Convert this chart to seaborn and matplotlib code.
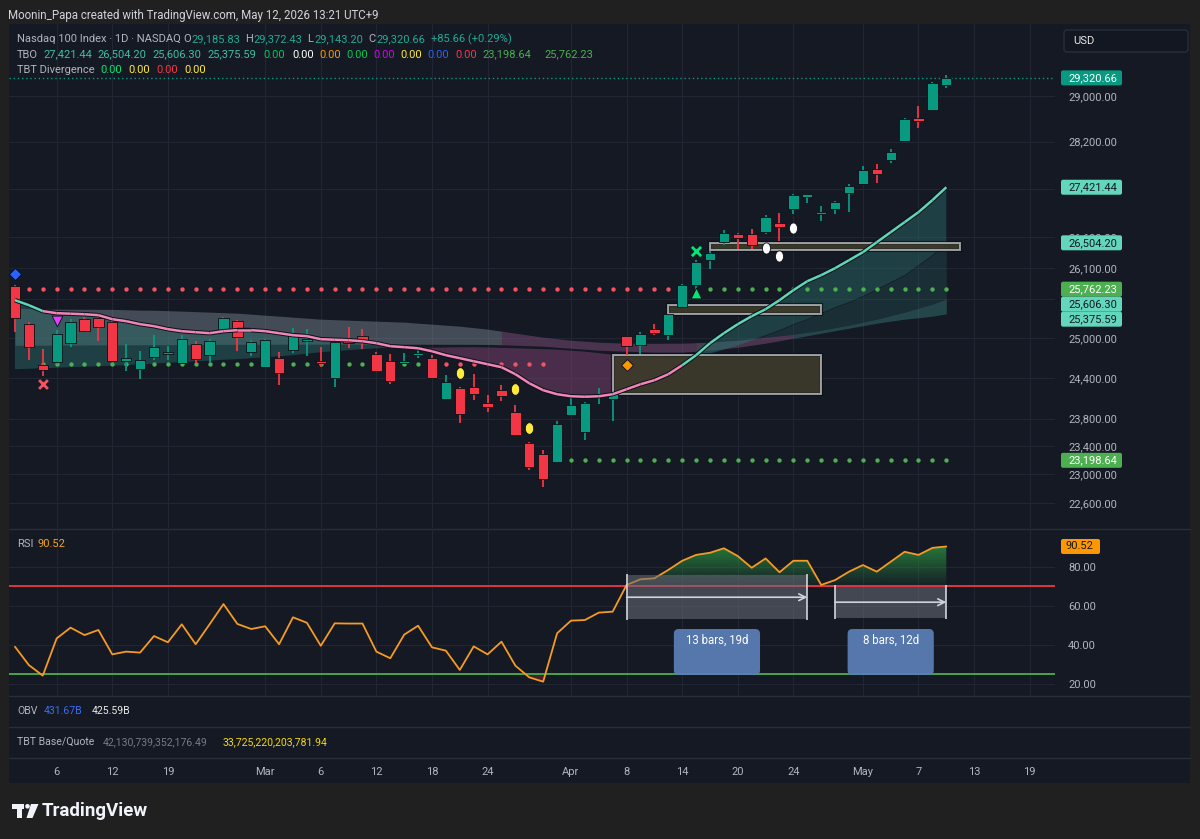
import numpy as np
import pandas as pd
import matplotlib
matplotlib.use("Agg")
import matplotlib.pyplot as plt
import matplotlib.ticker as mticker
import matplotlib.patheffects as pe
from matplotlib.collections import LineCollection
from matplotlib.colors import to_rgb
from matplotlib.patches import Rectangle, FancyBboxPatch, Polygon, Circle
from matplotlib.path import Path
import seaborn as sns

# ---------------- data ----------------
# trading sessions on the x axis (last 7 are empty future days)
holidays = ["2026-02-16", "2026-04-03"]
dates = pd.bdate_range("2026-02-03", "2026-05-20", freq="C", holidays=holidays)

# Nasdaq 100 daily candles, Feb 3 .. May 11 2026
opens = [25810, 25225, 24590, 24635, 24934, 25293, 25319, 25251, 24650, 24535,
         24715, 24756, 24616, 24919, 24741, 25112, 25262, 24791, 24566, 24700,
         24817, 24959, 24650, 24405, 24985, 25035, 24756, 24650, 24625, 24741,
         24706, 24083, 24242, 24257, 24029, 24216, 23897, 23448, 23286, 23168,
         23858, 23598, 24117, 24088, 25031, 24893, 25149, 25046, 25484, 25826,
         26223, 26519, 26655, 26644, 26681, 26835, 27055, 27260, 26972, 27055,
         27317, 27484, 27726, 27879, 28210, 28601, 28746, 29185.83]
highs = [25830, 25250, 24830, 25120, 25303, 25328, 25366, 25277, 24908, 24801,
         25046, 24878, 25046, 24959, 24995, 25328, 25277, 24969, 24995, 24791,
         25159, 25149, 24867, 24980, 25173, 25138, 24791, 24766, 24776, 24867,
         24741, 24440, 24257, 24455, 24152, 24301, 23995, 23462, 23343, 23765,
         24141, 24044, 24242, 24191, 25035, 25097, 25215, 25381, 25840, 26223,
         26373, 26709, 26660, 26721, 26955, 27000, 27305, 27310, 27105, 27188,
         27468, 27777, 27811, 28063, 28601, 28817, 29249, 29372.43]
lows = [25095, 24665, 24435, 24615, 24867, 25097, 24959, 24640, 24500, 24376,
        24676, 24676, 24606, 24625, 24616, 25105, 24806, 24726, 24556, 24301,
        24776, 24726, 24566, 24265, 24852, 24832, 24490, 24315, 24606, 24706,
        24390, 24068, 23736, 24079, 23897, 24058, 23550, 23068, 22816, 23154,
        23849, 23496, 24019, 23765, 24741, 24766, 25046, 24969, 25475, 25746,
        26090, 26465, 26396, 26396, 26655, 26530, 26972, 27150, 26862, 26983,
        27010, 27473, 27495, 27833, 28193, 28426, 28734, 29143.20]
closes = [25315, 24865, 24525, 25060, 25242, 25103, 25173, 24655, 24706, 24676,
          24873, 24791, 24995, 24681, 24959, 25313, 25011, 24944, 24969, 24475,
          25081, 24995, 24616, 24944, 24934, 24944, 24505, 24350, 24655, 24776,
          24399, 24340, 23873, 24157, 23970, 24132, 23558, 23105, 22928, 23727,
          23995, 24029, 24167, 24176, 24878, 25072, 25087, 25370, 25826, 26200,
          26331, 26665, 26574, 26465, 26928, 26763, 27288, 27305, 27010, 27177,
          27438, 27709, 27637, 28011, 28588, 28553, 29231, 29320.66]

# TBO bands
tbo_fast = [25589, 25511, 25418, 25386, 25378, 25370, 25355, 25293, 25262, 25216,
            25185, 25139, 25108, 25092, 25077, 25108, 25123, 25123, 25108, 25077,
            25046, 25031, 24985, 24977, 24969, 24954, 24924, 24878, 24863, 24847,
            24801, 24741, 24696, 24650, 24605, 24560, 24455, 24320, 24216, 24157,
            24127, 24120, 24127, 24157, 24231, 24305, 24365, 24455, 24590, 24741,
            24924, 25077, 25216, 25339, 25448, 25589, 25746, 25888, 25984, 26095,
            26223, 26352, 26514, 26677, 26841, 27006, 27205, 27421.44]
tbo_mid = [24530, 24537, 24545, 24552, 24560, 24567, 24575, 24583, 24590, 24605,
           24613, 24628, 24636, 24651, 24658, 24673, 24681, 24696, 24711, 24726,
           24741, 24764, 24787, 24802, 24817, 24832, 24847, 24855, 24862, 24862,
           24862, 24866, 24870, 24870, 24866, 24860, 24855, 24847, 24840, 24832,
           24817, 24802, 24779, 24756, 24741, 24726, 24711, 24696, 24696, 24711,
           24771, 24832, 24893, 24969, 25046, 25123, 25216, 25293, 25386, 25480,
           25558, 25652, 25762, 25873, 25985, 26143, 26303, 26504.20]
tbo_slow_a = [25464, 25456, 25448, 25448, 25447, 25447, 25446, 25445, 25440, 25433,
              25432, 25425, 25418, 25410, 25402, 25394, 25386, 25371, 25355, 25340,
              25324, 25309, 25293, 25285, 25277, 25270, 25262, 25254, 25247, 25231,
              25216, 25200, 25185, 25162, 25139, 25108, 25077, 25046, 25015, 24992,
              24969, 24954, 24939, 24931, 24924, 24923, 24922, 24923, 24924, 24931,
              24939, 24954, 24969, 24992, 25015, 25038, 25061, 25092, 25123, 25162,
              25200, 25247, 25293, 25347, 25402, 25464, 25527, 25606.30]
tbo_slow_b = [24893, 24893, 24894, 24895, 24896, 24897, 24898, 24899, 24899, 24900,
              24900, 24901, 24902, 24903, 24905, 24906, 24907, 24908, 24908, 24908,
              24909, 24909, 24909, 24909, 24909, 24909, 24908, 24908, 24908, 24908,
              24908, 24907, 24907, 24906, 24905, 24900, 24893, 24885, 24878, 24862,
              24847, 24832, 24817, 24809, 24802, 24794, 24787, 24787, 24787, 24802,
              24817, 24840, 24862, 24893, 24924, 24962, 25000, 25038, 25077, 25115,
              25154, 25192, 25231, 25262, 25293, 25316, 25340, 25375.59]

# dotted support / resistance levels: (price, first bar, last bar, colour)
level_dots = [(25762.23, 1, 48, "#f7525f"), (25762.23, 50, 67, "#4caf50"),
              (24605, 2, 30, "#4caf50"), (24605, 31, 38, "#f7525f"),
              (23198.64, 39, 67, "#4caf50")]

# signal markers: (bar, price)
blue_diamonds = [(0, 26000)]
magenta_down = [(3, 25262)]
red_crosses = [(2, 24305)]
yellow_drops = [(32, 24470), (36, 24231), (37, 23659)]
orange_diamonds = [(44, 24590)]
green_crosses = [(49, 26368)]
green_up = [(49, 25699)]
white_drops = [(54, 26417), (55, 26287), (56, 26742)]

# zone boxes: (first bar, last bar, low, high)
zones = [(43, 58, 24157, 24741), (47, 58, 25370, 25511), (50, 68, 26385, 26504.20)]

price_ticks = [22600, 23000, 23400, 23800, 24400, 25000, 25600, 26100, 26600, 27400, 28200, 29000]
hidden_tick_labels = [25600, 27400]   # sit under the value tags
price_tags = [(29320.66, "#089981", "white"), (27421.44, "#62d7bb", "#131722"),
              (26504.20, "#62d7bb", "#131722"), (25762.23, "#4caf50", "white"),
              (25606.30, "#62d7bb", "#131722"), (25375.59, "#62d7bb", "#131722"),
              (23198.64, "#4caf50", "white")]

rsi = [39.1, 29.7, 24.3, 43.4, 48.9, 45.1, 47.7, 35.2, 36.6, 36.1,
       44.6, 41.4, 50.6, 40.4, 50.6, 61.0, 50.8, 48.2, 49.6, 40.4,
       54.2, 51.4, 39.6, 51.1, 51.0, 51.0, 36.6, 33.2, 45.3, 49.9,
       38.8, 37.1, 27.2, 39.3, 35.2, 41.7, 29.4, 23.4, 21.2, 46.0,
       52.5, 52.8, 56.6, 57.1, 70.8, 73.7, 74.2, 78.5, 83.2, 86.2,
       87.3, 89.6, 85.6, 79.6, 84.4, 77.3, 83.2, 83.2, 70.8, 73.3,
       77.6, 81.0, 77.6, 82.7, 87.8, 86.2, 89.8, 90.52]
rsi_upper, rsi_lower = 70, 25

# date-range measurements on the RSI pane: (start bar, end bar, label)
ranges = [(44, 57, "13 bars, 19d"), (59, 67, "8 bars, 12d")]

tick_dates = ["2026-02-06", "2026-02-12", "2026-02-19", "2026-03-02", "2026-03-06",
              "2026-03-12", "2026-03-18", "2026-03-24", "2026-04-01", "2026-04-08",
              "2026-04-14", "2026-04-20", "2026-04-24", "2026-05-01", "2026-05-07",
              "2026-05-13", "2026-05-19"]

# ---------------- styling ----------------
GREEN, RED = "#089981", "#f23645"
MINT, PINK = "#5fd6b8", "#ef86b7"
OUTER, PANE, GRID, SEP = "#202020", "#151924", "#222634", "#2a2e39"
TXT, TEAL = "#b2b5be", "#22ab94"
W, H = 1200, 839

sns.set_theme(style="dark")
plt.rcParams["font.family"] = ["Roboto", "DejaVu Sans"]


def frac(x0, y0, x1, y1):
    return [x0 / W, 1 - y1 / H, (x1 - x0) / W, (y1 - y0) / H]


fig = plt.figure(figsize=(12, 8.39), dpi=100)
fig.patch.set_facecolor(OUTER)

bg = fig.add_axes([0, 0, 1, 1], zorder=-10)
bg.set_xlim(0, W)
bg.set_ylim(H, 0)
bg.axis("off")
bg.add_patch(Rectangle((9, 24), 1181, 759, facecolor=PANE, edgecolor="none"))
for yy in (528.5, 696, 727, 758):
    bg.plot([9, 1190], [yy, yy], color=SEP, lw=1)

ax = fig.add_axes(frac(9, 24, 1055, 528))
ax_r = fig.add_axes(frac(9, 530, 1055, 696))
for a in (ax, ax_r):
    a.set_facecolor("none")
    for s in a.spines.values():
        s.set_visible(False)

x = np.arange(len(closes))
o, h, l, c = (np.array(v, dtype=float) for v in (opens, highs, lows, closes))
fast, mid = np.array(tbo_fast), np.array(tbo_mid)
sa, sb = np.array(tbo_slow_a), np.array(tbo_slow_b)

tick_pos = [dates.get_loc(pd.Timestamp(d)) for d in tick_dates]
tick_lab = []
for p in tick_pos:
    d = dates[p]
    tick_lab.append(d.strftime("%b") if p == 0 or dates[p - 1].month != d.month else str(d.day))

# ---------------- main price pane ----------------
ax.set_yscale("log")
ax.yaxis.set_major_locator(mticker.FixedLocator(price_ticks))
ax.yaxis.set_minor_locator(mticker.NullLocator())
ax.yaxis.set_major_formatter(mticker.FuncFormatter(
    lambda v, _: "" if round(v) in hidden_tick_labels else f"{v:,.2f}"))
ax.yaxis.tick_right()
ax.set_xticks(tick_pos)
ax.set_xticklabels([])
ax.tick_params(axis="both", length=0, labelsize=8, labelcolor=TXT, pad=9.4)
ax.grid(True, color=GRID, lw=0.8)
ax.set_axisbelow(True)

# slow cloud
for a0, a1, col, al in [(0, 35, "#8e9ea8", 0.38), (35, 56, "#8a5482", 0.45), (56, 67, "#3f8f88", 0.38)]:
    ax.fill_between(x[a0:a1 + 1], sa[a0:a1 + 1], sb[a0:a1 + 1], color=col, alpha=al, lw=0, zorder=1)
# fast / mid fill
ax.fill_between(x, fast, mid, where=fast >= mid, interpolate=True, color="#2b6e69", alpha=0.45, lw=0, zorder=1.5)
ax.fill_between(x, fast, mid, where=fast < mid, interpolate=True, color="#7d4270", alpha=0.5, lw=0, zorder=1.5)
ax.fill_between(x[49:], mid[49:], sa[49:], color="#2b6e69", alpha=0.25, lw=0, zorder=1.5)

# zones
for b0, b1, lo, hi in zones:
    ax.add_patch(Rectangle((b0, lo), b1 - b0, hi - lo, facecolor="#3d3b2b", alpha=0.7,
                           edgecolor="#d1d4dc", lw=1.4, zorder=3,
                           path_effects=[pe.Stroke(linewidth=3, foreground="#0b0d12"), pe.Normal()]))

# last price line
ax.axhline(closes[-1], color=GREEN, lw=1, ls=(0, (1, 2)), zorder=2)

# dotted levels
for lvl, b0, b1, col in level_dots:
    xs = np.arange(b0, b1 + 1)
    sns.scatterplot(x=xs, y=np.full(len(xs), lvl), color=col, s=10, linewidth=0, ax=ax, zorder=4)

# candles
up = c >= o
cols = np.where(up, GREEN, RED)
ax.vlines(x, l, h, colors=cols, lw=1.3, zorder=5)
ax.bar(x, np.abs(c - o), bottom=np.minimum(o, c), width=0.74, color=cols,
       edgecolor="#0b0e14", linewidth=0.6, zorder=6)

# fast line, two colours
pts = np.column_stack([x, fast])
segs = np.stack([pts[:-1], pts[1:]], axis=1)
seg_cols = [MINT if (i < 2 or i >= 48) else PINK for i in range(len(segs))]
ax.add_collection(LineCollection(segs, colors=seg_cols, linewidths=1.8, zorder=7,
                                 path_effects=[pe.Stroke(linewidth=3.2, foreground="#0d1017"), pe.Normal()]))

# markers
t = np.linspace(0, 2 * np.pi, 41)
drop = Path(np.column_stack([0.72 * np.sin(t), np.cos(t)]))


def marks(pairs, marker, color, size, lw=0.6, ec="#0b0d12"):
    bx = [p[0] for p in pairs]
    by = [p[1] for p in pairs]
    ax.scatter(bx, by, marker=marker, s=size, color=color, edgecolors=ec if marker not in ("x",) else None,
               linewidths=lw, zorder=9)


marks(blue_diamonds, "D", "#2962ff", 38)
marks(magenta_down, "v", "#e040fb", 60)
marks(red_crosses, "x", "#f7525f", 40, lw=2)
marks(yellow_drops, drop, "#ffeb3b", 70)
marks(orange_diamonds, "D", "#ff9800", 36)
marks(green_crosses, "x", "#00e676", 44, lw=2)
marks(green_up, "^", "#00e676", 60)
marks(white_drops, drop, "#ffffff", 65)

ax.set_xlim(-0.43, 74.82)
ax.set_ylim(22257, 30304)

# ---------------- RSI pane ----------------
xr = x[:len(rsi)]
r = np.array(rsi)
ax_r.axhline(rsi_upper, color=RED, lw=1.3, zorder=2)
ax_r.axhline(rsi_lower, color="#4caf50", lw=1.3, zorder=2)

poly = ax_r.fill_between(xr, r, rsi_upper, where=r >= rsi_upper, interpolate=True, color="none", lw=0)
clip = Path.make_compound_path(*poly.get_paths())
grad = np.zeros((120, 1, 4))
grad[..., :3] = to_rgb("#2e9e45")
grad[:, 0, 3] = np.linspace(0.8, 0.05, 120)
im = ax_r.imshow(grad, extent=[40, 68, rsi_upper, 93], origin="upper", aspect="auto", zorder=1.5)
im.set_clip_path(clip, transform=ax_r.transData)
ax_r.fill_between(xr, r, rsi_lower, where=r <= rsi_lower, interpolate=True, color=RED, alpha=0.25, lw=0)

sns.lineplot(x=xr, y=r, color="#f59a23", lw=1.3, ax=ax_r, zorder=4)

for b0, b1, label in ranges:
    top = r[b0] + 5 if b0 == 44 else rsi_upper - 0.1
    bot = 53.2 if b0 == 44 else 54.0
    ax_r.add_patch(Rectangle((b0, bot), b1 - b0, top - bot, facecolor="#6a6d78", alpha=0.55,
                             edgecolor="none", zorder=5))
    ax_r.vlines([b0, b1], bot - 0.5, top + 0.7, color="#d1d4dc", lw=1.2, zorder=6)
    ymid = bot + (top - bot) * 0.5
    ax_r.annotate("", xy=(b1, ymid), xytext=(b0, ymid),
                  arrowprops=dict(arrowstyle="->", color="#d1d4dc", lw=1.2, shrinkA=0, shrinkB=0), zorder=6)
    cx = (b0 + b1) / 2
    ax_r.add_patch(FancyBboxPatch((cx - 3.1, 24.6), 6.2, 23.6,
                                  boxstyle="round,pad=0,rounding_size=0.35", mutation_aspect=7.1,
                                  facecolor="#5b7fb6", alpha=0.93, edgecolor="none", zorder=7))
    ax_r.text(cx, 42.2, label, color="white", fontsize=8.3, ha="center", va="center", zorder=8)

ax_r.set_xlim(-0.43, 74.82)
ax_r.set_ylim(13.85, 98.97)
ax_r.set_yticks([20, 40, 60, 80])
ax_r.yaxis.set_major_formatter(mticker.FuncFormatter(lambda v, _: f"{v:.2f}"))
ax_r.yaxis.tick_right()
ax_r.set_xticks(tick_pos)
ax_r.set_xticklabels([])
ax_r.tick_params(axis="both", length=0, labelsize=8, labelcolor=TXT, pad=9.4)
ax_r.grid(True, color=GRID, lw=0.8)
ax_r.set_axisbelow(True)
ax_r.set_xlabel("")
ax_r.set_ylabel("")

# ---------------- overlay: texts, tags, logo ----------------
fg = fig.add_axes([0, 0, 1, 1], zorder=20)
fg.set_xlim(0, W)
fg.set_ylim(H, 0)
fg.axis("off")
fg.patch.set_alpha(0)


def put(xp, yp, s, col, size=8, **kw):
    fg.text(xp, yp, s, color=col, fontsize=size, ha="left", va="center", **kw)


put(8, 15, "Moonin_Papa created with TradingView.com, May 12, 2026 13:21 UTC+9", "#d1d4dc", 8.3)

for xp, s, col in [(17, "Nasdaq 100 Index · 1D · NASDAQ", TXT), (183.5, "O", TXT), (191.5, "29,185.83", TEAL),
                   (245, "H", TXT), (253, "29,372.43", TEAL), (307.5, "L", TXT), (314, "29,143.20", TEAL),
                   (368, "C", TXT), (376, "29,320.66", TEAL), (431, "+85.66 (+0.29%)", TEAL)]:
    put(xp, 39, s, col)

tbo_row = [(17, "TBO", TXT), (43, "27,421.44", "#3fbfa3"), (97, "26,504.20", "#3fbfa3"),
           (152, "25,606.30", "#3fbfa3"), (207.5, "25,375.59", "#3fbfa3"), (263, "0.00", "#00c853"),
           (292.5, "0.00", "#ffffff"), (319, "0.00", "#ff9800"), (346.6, "0.00", "#00c853"),
           (373.5, "0.00", "#d500f9"), (400, "0.00", "#ffeb3b"), (427.7, "0.00", "#2962ff"),
           (455, "0.00", "#f23645"), (482, "23,198.64", "#4caf50"), (544.7, "25,762.23", "#4caf50")]
for xp, s, col in tbo_row:
    put(xp, 54.5, s, col)

for xp, s, col in [(17, "TBT Divergence", TXT), (100, "0.00", "#00e676"), (128.5, "0.00", "#ffeb3b"),
                   (156, "0.00", "#f23645"), (184.6, "0.00", "#ffeb3b")]:
    put(xp, 70, s, col)

put(17, 544, "RSI", TXT)
put(38, 544, f"{rsi[-1]:.2f}", "#f7a21b")

put(17, 711, "OBV", TXT, 7.6)
put(43.6, 711, "431.67B", "#3d6cf0", 7.6)
put(91.8, 711, "425.59B", "#e8e8e8", 7.6)
put(17, 742, "TBT Base/Quote", TXT, 7.6)
put(103, 742, "42,130,739,352,176.49", "#787b86", 7.6)
put(223, 742, "33,725,220,203,781.94", "#f5d90a", 7.6)

# date labels
for p, lab in zip(tick_pos, tick_lab):
    xp = ax.transData.transform((p, 25000))[0]
    fg.text(xp, 772, lab, color=TXT, fontsize=8, ha="center", va="center")

# USD box
fg.add_patch(FancyBboxPatch((1064, 30), 124, 22, boxstyle="round,pad=0,rounding_size=3",
                            facecolor="#131722", edgecolor="#2a2e39", lw=1))
put(1073, 41, "USD", "#e8e8e8", 8)

# price tags, pushed apart like the real scale does
rows = []
for price, fc, tc in price_tags:
    rows.append([H - ax.transData.transform((0, price))[1], price, fc, tc])
rows.sort()
for i in range(1, len(rows)):
    if rows[i][0] - rows[i - 1][0] < 15:
        rows[i][0] = rows[i - 1][0] + 15
for yp, price, fc, tc in rows:
    fg.add_patch(FancyBboxPatch((1061, yp - 7.5), 61, 15, boxstyle="round,pad=0,rounding_size=2",
                                facecolor=fc, edgecolor="none"))
    put(1068, yp, f"{price:,.2f}", tc, 8)

yp = H - ax_r.transData.transform((0, rsi[-1]))[1]
fg.add_patch(FancyBboxPatch((1061, yp - 7.5), 39, 15, boxstyle="round,pad=0,rounding_size=2",
                            facecolor="#ff9800", edgecolor="none"))
put(1066, yp, f"{rsi[-1]:.2f}", "#131722", 8)

# logo
logo = "#f0f3fa"
fg.add_patch(Polygon([[12, 804], [24, 804], [24, 808.5], [21.5, 808.5], [21.5, 818], [16.5, 818],
                      [16.5, 808.5], [12, 808.5]], facecolor=logo, edgecolor="none"))
fg.add_patch(Circle((27.5, 806.3), 2.3, facecolor=logo, edgecolor="none"))
fg.add_patch(Polygon([[31, 804], [38.5, 804], [32.5, 818], [26.5, 818]], facecolor=logo, edgecolor="none"))
fg.text(42, 811, "TradingView", color=logo, fontsize=13.5, fontweight="bold", ha="left", va="center")

fig.savefig("out.png", dpi=100, facecolor=OUTER)
